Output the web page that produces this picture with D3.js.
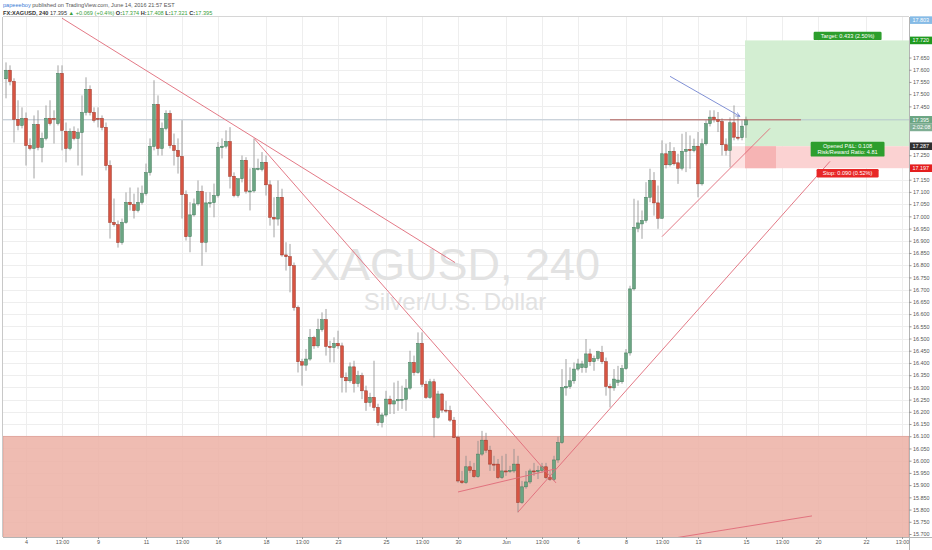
<!DOCTYPE html>
<html><head><meta charset="utf-8">
<script src="https://cdn.jsdelivr.net/npm/d3@7"></script>
<style>body{margin:0;background:#fff}svg{display:block}text{font-family:"Liberation Sans",Arial,sans-serif}</style>
</head><body><svg id="c" width="932" height="550"></svg>
<script>
// ---- data (4H bars, FX:XAGUSD) ----
const opens = [17.563,17.598,17.552,17.397,17.372,17.401,17.290,17.278,17.376,17.282,17.319,17.401,17.401,17.380,17.585,17.348,17.278,17.348,17.319,17.343,
17.425,17.520,17.425,17.401,17.401,17.364,17.208,16.975,16.966,16.893,16.975,17.057,17.048,17.024,17.057,17.093,17.179,17.286,17.458,17.278,
17.360,17.421,17.290,17.270,17.245,17.089,16.917,17.006,17.051,17.102,16.894,17.055,17.056,17.085,17.281,17.287,17.306,17.164,17.085,17.154,
17.229,17.103,17.104,17.195,17.192,17.221,17.129,16.996,16.989,17.078,16.842,16.835,16.798,16.627,16.405,16.391,16.416,16.504,16.470,16.536,
16.577,16.468,16.463,16.480,16.470,16.341,16.327,16.384,16.316,16.348,16.286,16.238,16.259,16.218,16.156,16.187,16.252,16.232,16.245,16.250,
16.251,16.297,16.402,16.361,16.480,16.313,16.259,16.323,16.177,16.273,16.207,16.205,16.166,16.095,15.917,15.910,15.975,15.961,15.935,16.027,
16.084,16.043,15.986,15.986,15.931,15.958,15.958,15.958,15.986,15.829,15.893,15.913,15.958,15.958,15.960,15.975,15.931,15.924,16.003,16.074,
16.298,16.303,16.327,16.375,16.381,16.381,16.437,16.405,16.418,16.443,16.405,16.304,16.298,16.321,16.323,16.377,16.441,16.703,16.951,16.969,
16.983,17.078,17.147,17.055,16.992,17.256,17.211,17.266,17.219,17.197,17.266,17.274,17.269,17.287,17.133,17.297,17.379,17.406,17.396,17.388,
17.293,17.270,17.383,17.324,17.322,17.374];
const highs = [17.630,17.618,17.565,17.475,17.446,17.425,17.319,17.413,17.434,17.343,17.454,17.475,17.434,17.618,17.618,17.384,17.360,17.368,17.360,17.495,
17.569,17.536,17.446,17.446,17.413,17.384,17.229,17.073,16.983,16.991,17.098,17.118,17.093,17.118,17.126,17.216,17.319,17.557,17.495,17.384,
17.434,17.434,17.339,17.319,17.393,17.106,17.058,17.073,17.147,17.126,17.099,17.099,17.134,17.304,17.319,17.352,17.365,17.180,17.106,17.249,
17.242,17.196,17.318,17.236,17.263,17.249,17.147,17.078,17.147,17.113,16.894,16.887,16.811,16.635,16.417,16.457,16.539,16.511,16.581,16.607,
16.621,16.491,16.505,16.532,16.483,16.361,16.402,16.409,16.368,16.360,16.307,16.278,16.409,16.233,16.196,16.286,16.266,16.320,16.327,16.307,
16.334,16.450,16.430,16.525,16.525,16.327,16.335,16.335,16.286,16.278,16.245,16.225,16.179,16.102,15.958,16.020,15.999,15.991,16.081,16.122,
16.114,16.061,16.020,16.007,16.020,16.028,15.979,16.048,16.020,15.917,15.958,15.967,15.991,15.979,15.991,15.991,15.958,16.020,16.098,16.375,
16.416,16.382,16.402,16.417,16.409,16.498,16.458,16.430,16.450,16.470,16.422,16.315,16.375,16.388,16.392,16.457,16.716,17.072,17.065,17.024,
17.140,17.195,17.181,17.126,17.311,17.297,17.304,17.283,17.256,17.338,17.345,17.331,17.318,17.345,17.318,17.393,17.434,17.434,17.427,17.401,
17.319,17.405,17.454,17.413,17.393,17.408];
const lows = [17.483,17.536,17.302,17.352,17.360,17.208,17.270,17.155,17.270,17.221,17.311,17.372,17.298,17.372,17.270,17.221,17.270,17.311,17.208,17.167,
17.413,17.413,17.384,17.364,17.352,17.188,16.909,16.958,16.872,16.884,16.970,17.024,16.991,17.016,17.048,17.085,17.167,17.270,17.249,17.249,
17.352,17.278,17.208,17.175,16.991,16.901,16.853,16.999,17.044,16.798,16.853,17.036,16.996,17.077,17.237,17.278,17.114,17.078,17.077,17.139,
17.093,17.024,17.097,17.188,17.184,17.085,16.962,16.914,16.962,16.835,16.778,16.689,16.614,16.361,16.307,16.368,16.409,16.458,16.462,16.528,
16.430,16.402,16.402,16.458,16.279,16.279,16.319,16.279,16.302,16.252,16.204,16.221,16.204,16.143,16.136,16.180,16.191,16.191,16.204,16.212,
16.204,16.290,16.348,16.356,16.302,16.253,16.253,16.095,16.171,16.196,16.196,16.159,16.093,15.910,15.905,15.905,15.950,15.930,15.930,16.020,
16.032,15.958,15.958,15.925,15.925,15.938,15.950,15.950,15.788,15.823,15.885,15.905,15.938,15.925,15.950,15.925,15.917,15.917,15.991,16.069,
16.266,16.294,16.315,16.368,16.360,16.360,16.388,16.368,16.409,16.396,16.266,16.218,16.286,16.306,16.315,16.372,16.430,16.696,16.935,16.908,
16.974,17.058,17.003,16.949,16.991,17.196,17.204,17.208,17.133,17.188,17.181,17.195,17.262,17.078,17.126,17.290,17.368,17.384,17.345,17.249,
17.249,17.201,17.311,17.311,17.311,17.321];
const closes = [17.598,17.552,17.397,17.372,17.401,17.290,17.278,17.376,17.282,17.319,17.401,17.380,17.399,17.585,17.352,17.278,17.348,17.319,17.343,17.425,
17.520,17.425,17.393,17.398,17.364,17.208,16.975,16.966,16.893,16.975,17.057,17.048,17.024,17.057,17.093,17.179,17.286,17.458,17.278,17.360,
17.421,17.290,17.270,17.245,17.089,16.917,17.006,17.051,17.102,16.894,17.055,17.056,17.085,17.283,17.287,17.306,17.164,17.085,17.154,17.229,
17.103,17.104,17.195,17.196,17.221,17.129,16.996,16.989,17.078,16.842,16.835,16.798,16.627,16.405,16.391,16.416,16.504,16.470,16.536,16.577,
16.468,16.463,16.480,16.470,16.341,16.327,16.384,16.316,16.348,16.286,16.238,16.259,16.218,16.156,16.187,16.252,16.232,16.245,16.250,16.251,
16.297,16.402,16.361,16.480,16.313,16.259,16.323,16.177,16.273,16.207,16.205,16.166,16.095,15.917,15.910,15.975,15.961,15.935,16.027,16.084,
16.043,15.986,15.985,15.931,15.958,15.957,15.960,15.986,15.829,15.893,15.913,15.958,15.957,15.960,15.975,15.931,15.924,16.003,16.074,16.300,
16.303,16.327,16.375,16.396,16.396,16.437,16.405,16.418,16.446,16.405,16.304,16.298,16.334,16.330,16.377,16.441,16.703,16.955,16.973,16.983,
17.078,17.147,17.055,16.992,17.256,17.211,17.266,17.215,17.197,17.266,17.274,17.269,17.287,17.133,17.297,17.379,17.406,17.396,17.388,17.293,
17.270,17.383,17.324,17.322,17.369,17.395];

const dateIdx    = [5,14,23,35,44,53,65,74,83,95,104,113,125,134,143,155,164,173,185,194,203,215,224];
const dateLabels = ["4","13:00","9","11","13:00","16","18","13:00","23","25","13:00","30","Jun","13:00","6","8","13:00","13","15","13:00","20","22","13:00"];

// drawings (bar index, price)
const trendLines = [
  {a:[14,17.811], b:[112.25,16.811]},
  {a:[62.08,17.318], b:[137.5,15.909]},
  {a:[113,15.872], b:[137.25,15.966]},
  {a:[128,15.790], b:[206,17.225]},
  {a:[164,16.917], b:[191,17.360]},
  {a:[167.25,15.684], b:[201.5,15.774]}
];
const hLine = {a:[151,17.395], b:[198.75,17.395]};
const arrowLine = {a:[166,17.573], b:[183.5,17.409]};
const zoneTop = 16.10;
const position = {start:185, entry:17.287, target:17.720, stop:17.197, labelAt:210.4};
const lastPrice = 17.395;

// ---- layout ----
const L=3,R=909,T=17,B=537;
const svg = d3.select("#c");
const x = d3.scaleLinear().domain([-0.75,225.75]).range([L,R]);
const y = d3.scaleLinear().domain([15.7,17.7]).range([534,45.3]);
const priceTicks = y.ticks(40);

svg.append("rect").attr("width",932).attr("height",550).attr("fill","#fff");
svg.append("defs").append("clipPath").attr("id","pc").append("rect")
  .attr("x",L).attr("y",T).attr("width",R-L).attr("height",B-T);
const plot = svg.append("g").attr("clip-path","url(#pc)");

// grid
plot.append("g").selectAll("line").data(priceTicks).join("line")
  .attr("x1",L).attr("x2",R).attr("y1",d=>Math.round(y(d))+0.5).attr("y2",d=>Math.round(y(d))+0.5)
  .attr("stroke","#eeeeee").attr("stroke-width",1);
plot.append("g").selectAll("line").data(dateIdx).join("line")
  .attr("x1",d=>Math.round(x(d))+0.5).attr("x2",d=>Math.round(x(d))+0.5).attr("y1",T).attr("y2",B)
  .attr("stroke","#eeeeee").attr("stroke-width",1);

// watermark
plot.append("text").attr("x",455).attr("y",280).attr("text-anchor","middle")
  .attr("font-size",45).attr("fill","#e2e2e2").text("XAGUSD, 240");
plot.append("text").attr("x",455).attr("y",310).attr("text-anchor","middle")
  .attr("font-size",24).attr("fill","#e2e2e2").text("Silver/U.S. Dollar");

// support zone
plot.append("rect").attr("x",L).attr("y",y(zoneTop)).attr("width",R-L).attr("height",B-y(zoneTop)+2)
  .attr("fill","rgb(236,176,164)").attr("fill-opacity",0.85).attr("stroke","#d9938a").attr("stroke-width",0.6);

// position tool
const px0 = x(position.start-0.25);
plot.append("rect").attr("x",px0).attr("y",y(position.target)).attr("width",R-px0).attr("height",y(position.entry)-y(position.target)).attr("fill","#d3eed2");
plot.append("rect").attr("x",x(181)).attr("y",y(position.entry)).attr("width",px0-x(181)).attr("height",y(position.stop)-y(position.entry)).attr("fill","#fde3e3");
plot.append("rect").attr("x",px0).attr("y",y(position.entry)).attr("width",R-px0).attr("height",y(position.stop)-y(position.entry)).attr("fill","#fbd2d2");
plot.append("rect").attr("x",px0).attr("y",y(position.entry)).attr("width",x(192.5)-px0).attr("height",y(position.stop)-y(position.entry)).attr("fill","#f6b4b4");

// last price line
plot.append("line").attr("x1",L).attr("x2",R).attr("y1",y(lastPrice)).attr("y2",y(lastPrice))
  .attr("stroke","#aebccb").attr("stroke-width",0.8);

// candles
const bars = opens.map((o,i)=>({i,o,h:highs[i],l:lows[i],c:closes[i]}));
const cg = plot.append("g");
cg.selectAll("line").data(bars).join("line")
  .attr("x1",d=>x(d.i)).attr("x2",d=>x(d.i)).attr("y1",d=>y(d.h)).attr("y2",d=>y(d.l))
  .attr("stroke","#8c8c8c").attr("stroke-width",0.8);
cg.selectAll("rect").data(bars).join("rect")
  .attr("x",d=>x(d.i)-1.4).attr("width",2.8)
  .attr("y",d=>y(Math.max(d.o,d.c)))
  .attr("height",d=>Math.max(1,Math.abs(y(d.o)-y(d.c))))
  .attr("fill",d=>d.c>=d.o?"#6ba583":"#d75442")
  .attr("stroke",d=>d.c>=d.o?"#3f7a59":"#9a3224").attr("stroke-width",0.5);

// trend lines
plot.append("g").selectAll("line").data(trendLines).join("line")
  .attr("x1",d=>x(d.a[0])).attr("y1",d=>y(d.a[1])).attr("x2",d=>x(d.b[0])).attr("y2",d=>y(d.b[1]))
  .attr("stroke","#e06a78").attr("stroke-width",0.9);
plot.append("line").attr("x1",x(hLine.a[0])).attr("y1",y(hLine.a[1])).attr("x2",x(hLine.b[0])).attr("y2",y(hLine.b[1]))
  .attr("stroke","#b8574f").attr("stroke-width",0.9);
svg.append("defs").append("marker").attr("id","ar").attr("viewBox","0 0 10 10").attr("refX",9).attr("refY",5)
  .attr("markerWidth",6).attr("markerHeight",6).attr("orient","auto")
  .append("path").attr("d","M0,1 L9,5 L0,9").attr("fill","none").attr("stroke","#7385d0").attr("stroke-width",1.2);
plot.append("line").attr("x1",x(arrowLine.a[0])).attr("y1",y(arrowLine.a[1])).attr("x2",x(arrowLine.b[0])).attr("y2",y(arrowLine.b[1]))
  .attr("stroke","#7385d0").attr("stroke-width",0.9).attr("marker-end","url(#ar)");

// position labels
function tag(cx, cy, lines, bg){
  const w = d3.max(lines, s=>s.length)*2.95+6, h = lines.length*6.4+2;
  const g = svg.append("g");
  g.append("rect").attr("x",cx-w/2).attr("y",cy-h/2).attr("width",w).attr("height",h).attr("rx",1.2).attr("fill",bg);
  lines.forEach((s,k)=>g.append("text").attr("x",cx).attr("y",cy-h/2+6+k*6.4).attr("text-anchor","middle")
    .attr("font-size",5.6).attr("fill","#fff").text(s));
}
const lc = x(position.labelAt);
tag(lc, y(position.target)-4.5, ["Target: 0.433 (2.50%)"], "#2d9e2d");
tag(lc, y(position.entry)+3, ["Opened P&L: 0.108","Risk/Reward Ratio: 4.81"], "#2d9e2d");
tag(lc, y(position.stop)+5, ["Stop: 0.090 (0.52%)"], "#e82626");

// axes frame
svg.append("line").attr("x1",R+0.5).attr("x2",R+0.5).attr("y1",T).attr("y2",550).attr("stroke","#b4b4b4");
svg.append("line").attr("x1",L).attr("x2",932).attr("y1",B+0.5).attr("y2",B+0.5).attr("stroke","#b4b4b4");
svg.append("line").attr("x1",L-0.5).attr("x2",L-0.5).attr("y1",T).attr("y2",B).attr("stroke","#c8c8c8");
svg.append("line").attr("x1",L).attr("x2",R).attr("y1",T-0.5).attr("y2",T-0.5).attr("stroke","#d6d6d6");

// price labels on axis (tags)
const axisTags = [
  {p:17.803, t:"17.803", bg:"#86bbe6"},
  {p:position.target, t:"17.720", bg:"#1f9a1f"},
  {p:lastPrice, t:"17.395", bg:"#6ba583"},
  {p:lastPrice, t:"2:02:08", bg:"#7fae94", dy:7.6},
  {p:position.entry, t:"17.287", bg:"#2f2f2f"},
  {p:position.stop, t:"17.197", bg:"#e41e1e"}
];
const tagY = axisTags.map(a=>y(a.p)+(a.dy||0));
const visibleTicks = priceTicks.filter(t=>tagY.every(ty=>Math.abs(y(t)-ty)>7.2));

const ya = svg.append("g").attr("transform",`translate(${R},0)`)
  .call(d3.axisRight(y).tickValues(visibleTicks).tickFormat(d3.format(".3f")).tickSize(2.5).tickPadding(1.5));
ya.select(".domain").remove();
ya.selectAll("line").attr("stroke","#999");
ya.selectAll("text").attr("font-size",5.4).attr("fill","#555").attr("font-family","Liberation Sans, Arial, sans-serif");

const xa = svg.append("g").attr("transform",`translate(0,${B})`)
  .call(d3.axisBottom(x).tickValues(dateIdx).tickFormat((d,i)=>dateLabels[i]).tickSize(2).tickPadding(1.5));
xa.select(".domain").remove();
xa.selectAll("line").attr("stroke","#999");
xa.selectAll("text").attr("font-size",5.4).attr("fill","#555").attr("font-family","Liberation Sans, Arial, sans-serif");

const tg = svg.append("g");
axisTags.forEach((a,k)=>{
  const cy = tagY[k];
  tg.append("rect").attr("x",R+1).attr("y",cy-3.8).attr("width",932-R-1).attr("height",7.6).attr("fill",a.bg);
  tg.append("text").attr("x",R+3.5).attr("y",cy+2).attr("font-size",5.4).attr("fill","#fff").text(a.t);
});

// header
const h1 = svg.append("text").attr("x",3).attr("y",7).attr("font-size",5.6).attr("fill","#555");
h1.append("tspan").attr("fill","#3b7bd6").text("papeeeboy");
h1.append("tspan").text(" published on TradingView.com, June 14, 2016 21:57 EST");
const h2 = svg.append("text").attr("x",3).attr("y",14.5).attr("font-size",5.6).attr("fill","#333");
h2.append("tspan").attr("font-weight","bold").text("FX:XAGUSD, 240");
h2.append("tspan").text(" 17.395 ");
h2.append("tspan").attr("fill","#3aa13a").text("▲");
h2.append("tspan").attr("fill","#3aa13a").text(" +0.069 (+0.4%) ");
[["O:","17.374"],["H:","17.408"],["L:","17.321"],["C:","17.395"]].forEach(([k,v])=>{
  h2.append("tspan").attr("font-weight","bold").text(k);
  h2.append("tspan").attr("fill","#3aa13a").text(v+" ");
});
</script></body></html>
